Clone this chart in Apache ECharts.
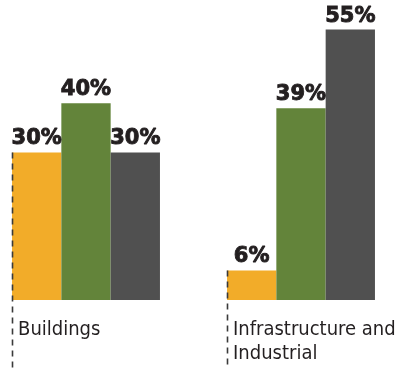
<!DOCTYPE html>
<html>
<head>
<meta charset="utf-8">
<script src="https://cdn.jsdelivr.net/npm/echarts@6/dist/echarts.min.js"></script>
<style>html,body{margin:0;padding:0;background:#fff}#c{width:397px;height:369px}</style>
</head>
<body>
<div id="c"></div>
<script>
var categories = ['Buildings', 'Infrastructure and\nIndustrial'];
var seriesA = [30, 6];
var seriesB = [40, 39];
var seriesC = [30, 55];
var colors = ['#F2AC29', '#63843A', '#505050'];
var catGap = 0.312;

var chart = echarts.init(document.getElementById('c'), null, {renderer: 'canvas'});

function barSeries(data, color) {
  return {
    type: 'bar',
    data: data,
    barGap: '0%',
    barCategoryGap: (catGap * 100) + '%',
    itemStyle: {color: color},
    label: {
      show: true,
      position: 'top',
      distance: 3,
      formatter: '{c}%',
      fontFamily: 'DejaVu Sans',
      fontWeight: 'bold',
      fontSize: 21,
      color: '#231F20',
      textBorderColor: '#231F20',
      textBorderWidth: 0.9
    },
    silent: true
  };
}

var guideData = categories.map(function (c, i) { return [i, seriesA[i]]; });

var option = {
  animation: false,
  grid: {left: -21.5, right: -11.5, top: 5, bottom: 69, containLabel: false, outerBoundsMode: 'none'},
  xAxis: {
    type: 'category',
    data: categories,
    axisLine: {show: false},
    axisTick: {show: false},
    axisLabel: {show: false},
    splitLine: {show: false}
  },
  yAxis: {
    type: 'value', min: 0, max: 60, show: false
  },
  series: [
    barSeries(seriesA, colors[0]),
    barSeries(seriesB, colors[1]),
    barSeries(seriesC, colors[2]),
    {
      type: 'custom',
      data: guideData,
      z: 10,
      silent: true,
      renderItem: function (params, api) {
        var idx = api.value(0);
        var top = api.coord([idx, api.value(1)]);
        var base = api.coord([idx, 0]);
        var bandW = api.size([1, 0])[0];
        var left = top[0] - bandW * (1 - catGap) / 2;
        var x = Math.round(left) + 0.5;
        return {
          type: 'group',
          children: [
            {
              type: 'line',
              shape: {x1: x, y1: top[1], x2: x, y2: api.getHeight()},
              style: {stroke: '#3a3a3a', lineWidth: 1.6, lineDash: [6, 5]}
            },
            {
              type: 'text',
              x: left + 6,
              y: base[1] + 18,
              style: {
                text: categories[idx],
                font: '20px "DejaVu Sans Condensed", "DejaVu Sans"',
                fill: '#231F20',
                align: 'left',
                verticalAlign: 'top',
                lineHeight: 24
              }
            }
          ]
        };
      }
    }
  ]
};
chart.setOption(option);
</script>
</body>
</html>
